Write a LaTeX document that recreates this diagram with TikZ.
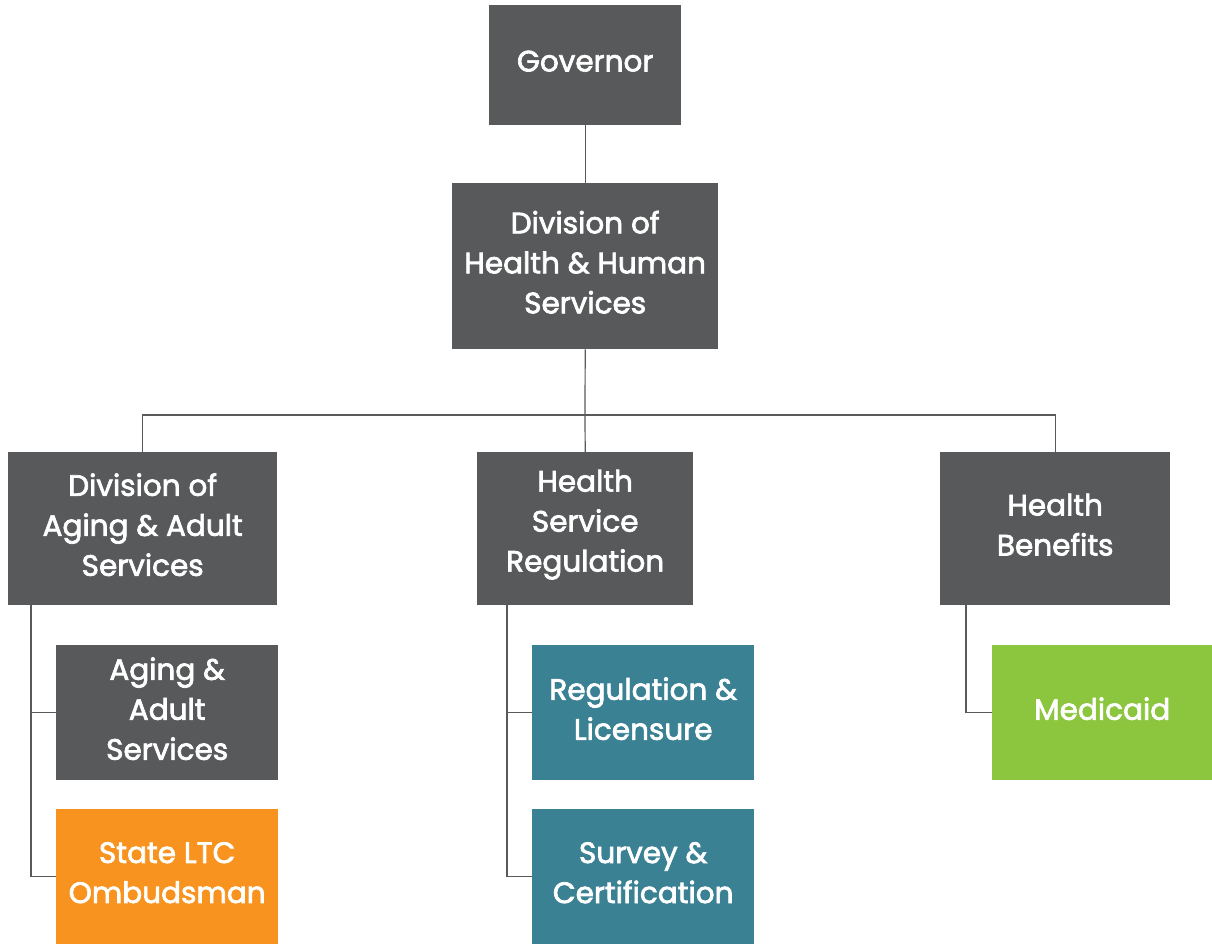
\documentclass[tikz,border=0pt]{standalone}
\usepackage{fontspec}
\setmainfont{Poppins}
\definecolor{boxgray}{HTML}{58595B}
\definecolor{boxteal}{HTML}{3A8194}
\definecolor{boxorange}{HTML}{F7931E}
\definecolor{boxgreen}{HTML}{8CC63F}
\definecolor{linegray}{HTML}{58595B}
\newcommand{\heavier}{\special{pdf:literal 2 Tr 0.7 w 1 G}}
\tikzset{
  box/.style={draw=none, fill=boxgray, inner sep=0pt, anchor=north west},
  boxtext/.style={text=white, align=center, inner sep=0pt, yshift=4pt,
    font=\fontsize{29.5}{40}\selectfont\heavier},
  conn/.style={draw=linegray, line width=1.2pt}
}
\newcommand{\bx}[7]{% name, x1,y1,x2,y2, color, text
  \node[box, fill=#6, minimum width={(#4-#2)*1pt}, minimum height={(#5-#3)*1pt},
    label={[boxtext]center:#7}] (#1) at (#2,#3) {};}
\begin{document}
\begin{tikzpicture}[x=1pt,y=-1pt]
\useasboundingbox (0,0) rectangle (1212,945);
\bx{gov}{489}{5}{681}{125}{boxgray}{Governor}
\bx{dhhs}{452}{183}{718}{349}{boxgray}{Division of\\Health \& Human\\Services}
\bx{daas}{8}{452}{277}{605}{boxgray}{Division of\\Aging \& Adult\\Services}
\bx{hsr}{477}{452}{693}{605}{boxgray}{Health\\Service\\Regulation}
\bx{hb}{940}{452}{1170}{605}{boxgray}{Health\\Benefits}
\bx{aas}{56}{645}{278}{780}{boxgray}{Aging \&\\Adult\\Services}
\bx{ltc}{56}{809}{278}{944}{boxorange}{State LTC\\Ombudsman}
\bx{rl}{532}{645}{754}{780}{boxteal}{Regulation \&\\Licensure}
\bx{sc}{532}{809}{754}{944}{boxteal}{Survey \&\\Certification}
\bx{med}{992}{645}{1212}{780}{boxgreen}{Medicaid}
\coordinate (bus) at (585,415);
\draw[conn] (gov.south) -- (gov.south |- dhhs.north);
\draw[conn] (dhhs.south) -- (bus);
\draw[conn] (daas.north) |- (bus) -| (hb.north);
\draw[conn] (bus) -- (hsr.north);
\draw[conn] (daas.south west) ++(23,0) coordinate (d1) -- (d1 |- ltc.west) -- (ltc.west);
\draw[conn] (d1 |- aas.west) -- (aas.west);
\draw[conn] (hsr.south west) ++(30,0) coordinate (h1) -- (h1 |- sc.west) -- (sc.west);
\draw[conn] (h1 |- rl.west) -- (rl.west);
\draw[conn] (hb.south west) ++(26,0) coordinate (b1) -- (b1 |- med.west) -- (med.west);
\end{tikzpicture}
\end{document}
